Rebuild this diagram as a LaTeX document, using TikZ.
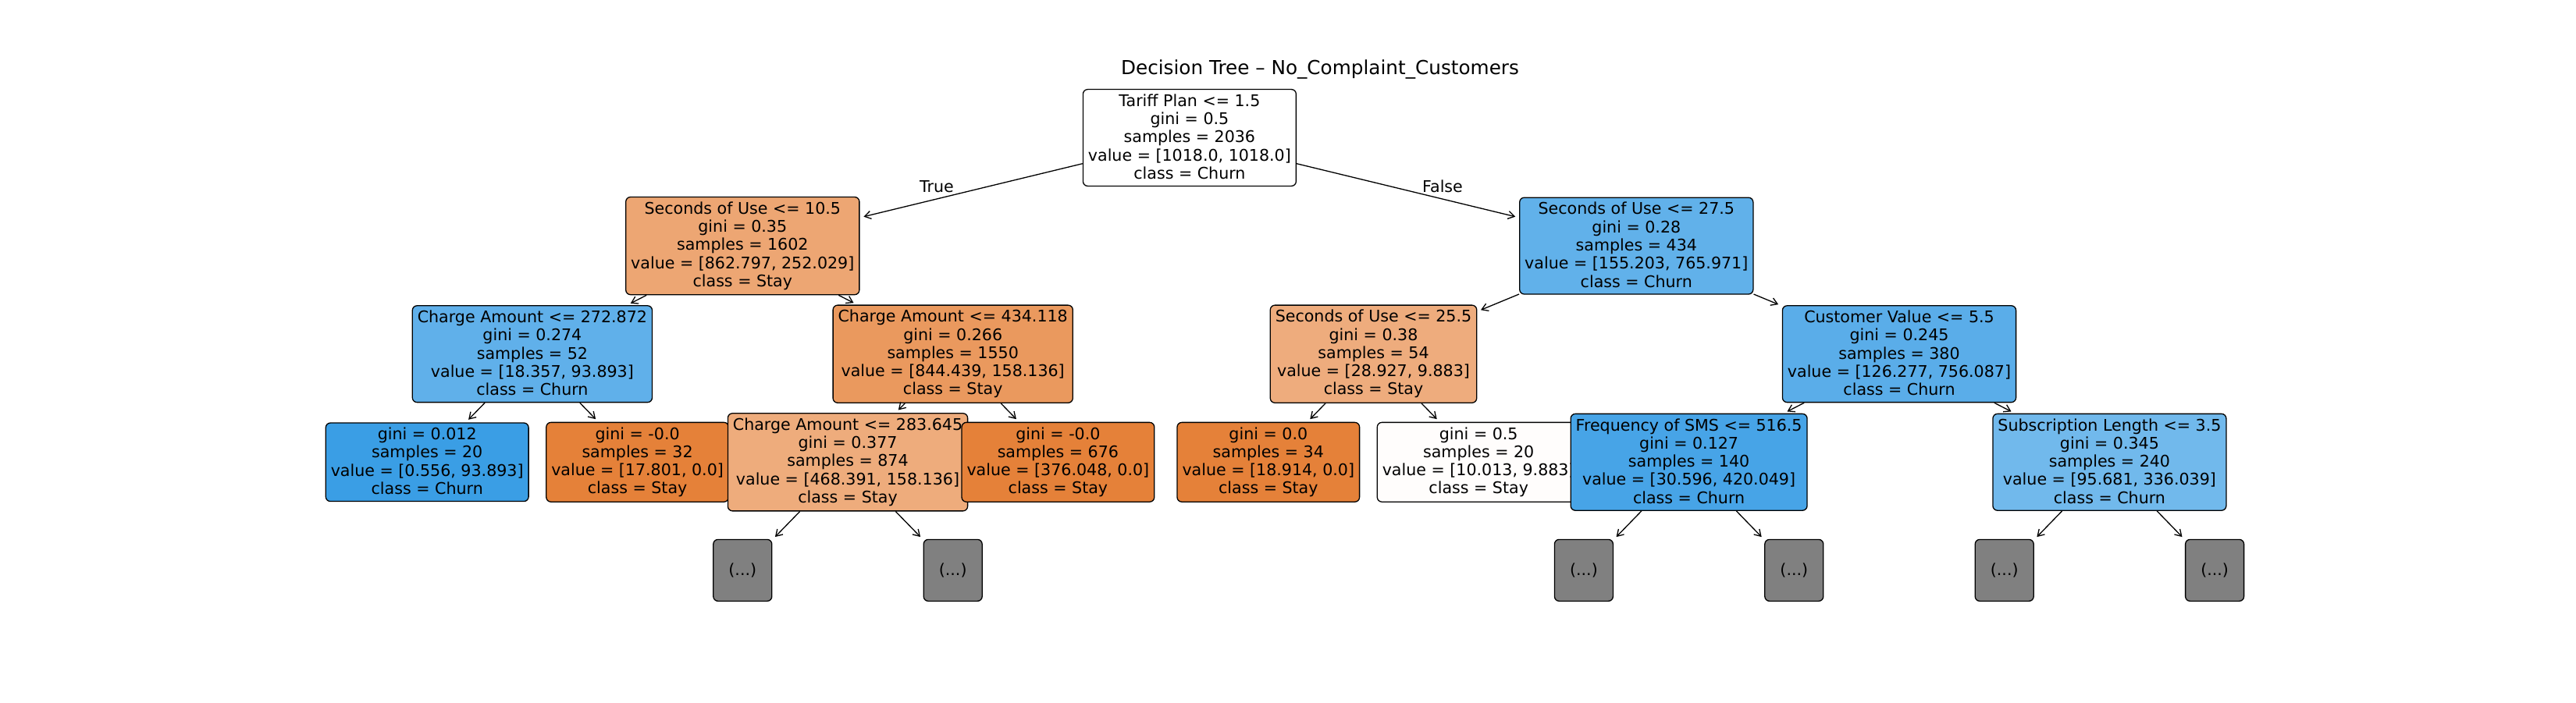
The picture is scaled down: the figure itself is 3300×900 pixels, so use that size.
\documentclass[tikz,border=0pt]{standalone}
\usepackage{fontspec}
\setmainfont{DejaVu Sans}
\usetikzlibrary{arrows.meta}
\definecolor{stayFull}{HTML}{E58139}
\definecolor{stayA}{HTML}{EDA673}
\definecolor{stayB}{HTML}{EA995E}
\definecolor{stayC}{HTML}{EEAC7D}
\definecolor{stayD}{HTML}{EEAC7C}
\definecolor{stayE}{HTML}{FFFDFC}
\definecolor{churnA}{HTML}{61B1EA}
\definecolor{churnB}{HTML}{60B0EA}
\definecolor{churnC}{HTML}{5AADE9}
\definecolor{churnD}{HTML}{3A9EE5}
\definecolor{churnE}{HTML}{47A4E7}
\definecolor{churnF}{HTML}{71B9EC}
\definecolor{cutGrey}{HTML}{808080}

\begin{document}
\begin{tikzpicture}[
  x=1pt, y=-1pt,
  treebox/.style={
    draw=black,
    line width=1.3pt,
    rounded corners=6pt,
    align=center,
    inner xsep=6.5pt,
    inner ysep=6pt,
    font=\fontsize{20.6pt}{23.3pt}\selectfont,
    execute at begin node={\rule{0pt}{16.7pt}},
    execute at end node={\rule[-3pt]{0pt}{3pt}}
  },
  morebox/.style={
    draw=black,
    line width=1.3pt,
    rounded corners=6pt,
    fill=cutGrey,
    minimum width=75pt,
    minimum height=79pt,
    inner sep=0pt,
    font=\fontsize{20.6pt}{23.3pt}\selectfont
  },
  treearrow/.style={
    -{Straight Barb[length=8pt,width=10pt]},
    line width=1.3pt,
    shorten >=5pt
  },
  branchlabel/.style={
    anchor=base,
    inner sep=0pt,
    font=\fontsize{20.6pt}{23.3pt}\selectfont
  }
]
\useasboundingbox (0,0) rectangle (3300,900);

\node[anchor=base, inner sep=0pt, font=\fontsize{24.7pt}{29pt}\selectfont] (title) at (1691,95.7)
  {Decision Tree – No\_Complaint\_Customers};

% depth 0
\node[treebox, fill=white] (root) at (1523.9,176.5)
  {Tariff Plan <= 1.5\\gini = 0.5\\samples = 2036\\value = [1018.0, 1018.0]\\class = Churn};

% left subtree
\node[treebox, fill=stayA] (useA) at (951.3,315.1)
  {Seconds of Use <= 10.5\\gini = 0.35\\samples = 1602\\value = [862.797, 252.029]\\class = Stay};
\node[treebox, fill=churnB] (chgA) at (681.9,453.7)
  {Charge Amount <= 272.872\\gini = 0.274\\samples = 52\\value = [18.357, 93.893]\\class = Churn};
\node[treebox, fill=churnD] (leafA) at (547.2,592.3)
  {gini = 0.012\\samples = 20\\value = [0.556, 93.893]\\class = Churn};
\node[treebox, fill=stayFull] (leafB) at (816.6,592.3)
  {gini = -0.0\\samples = 32\\value = [17.801, 0.0]\\class = Stay};
\node[treebox, fill=stayB] (chgB) at (1220.7,453.7)
  {Charge Amount <= 434.118\\gini = 0.266\\samples = 1550\\value = [844.439, 158.136]\\class = Stay};
\node[treebox, fill=stayD] (chgC) at (1086.0,592.3)
  {Charge Amount <= 283.645\\gini = 0.377\\samples = 874\\value = [468.391, 158.136]\\class = Stay};
\node[morebox] (moreA) at (951.3,730.9) {(...)};
\node[morebox] (moreB) at (1220.7,730.9) {(...)};
\node[treebox, fill=stayFull] (leafC) at (1355.4,592.3)
  {gini = -0.0\\samples = 676\\value = [376.048, 0.0]\\class = Stay};

% right subtree
\node[treebox, fill=churnA] (useB) at (2096.3,315.1)
  {Seconds of Use <= 27.5\\gini = 0.28\\samples = 434\\value = [155.203, 765.971]\\class = Churn};
\node[treebox, fill=stayC] (useC) at (1759.5,453.7)
  {Seconds of Use <= 25.5\\gini = 0.38\\samples = 54\\value = [28.927, 9.883]\\class = Stay};
\node[treebox, fill=stayFull] (leafD) at (1624.8,592.3)
  {gini = 0.0\\samples = 34\\value = [18.914, 0.0]\\class = Stay};
\node[treebox, fill=stayE] (leafE) at (1894.2,592.3)
  {gini = 0.5\\samples = 20\\value = [10.013, 9.883]\\class = Stay};
\node[treebox, fill=churnC] (custV) at (2433.0,453.7)
  {Customer Value <= 5.5\\gini = 0.245\\samples = 380\\value = [126.277, 756.087]\\class = Churn};
\node[treebox, fill=churnE] (freqS) at (2163.6,592.3)
  {Frequency of SMS <= 516.5\\gini = 0.127\\samples = 140\\value = [30.596, 420.049]\\class = Churn};
\node[morebox] (moreC) at (2028.9,730.9) {(...)};
\node[morebox] (moreD) at (2298.3,730.9) {(...)};
\node[treebox, fill=churnF] (subL) at (2702.4,592.3)
  {Subscription Length <= 3.5\\gini = 0.345\\samples = 240\\value = [95.681, 336.039]\\class = Churn};
\node[morebox] (moreE) at (2567.7,730.9) {(...)};
\node[morebox] (moreF) at (2837.1,730.9) {(...)};

% branches
\foreach \from/\to in {root/useA, useA/chgA, chgA/leafA, chgA/leafB, useA/chgB,
    chgB/chgC, chgC/moreA, chgC/moreB, chgB/leafC, root/useB, useB/useC,
    useC/leafD, useC/leafE, useB/custV, custV/freqS, freqS/moreC, freqS/moreD,
    custV/subL, subL/moreE, subL/moreF}
  \draw[treearrow] (\from) -- (\to);

\node[branchlabel] (trueLbl) at (1200,246.7) {True};
\node[branchlabel] (falseLbl) at (1848,246.7) {False};

\end{tikzpicture}
\end{document}
